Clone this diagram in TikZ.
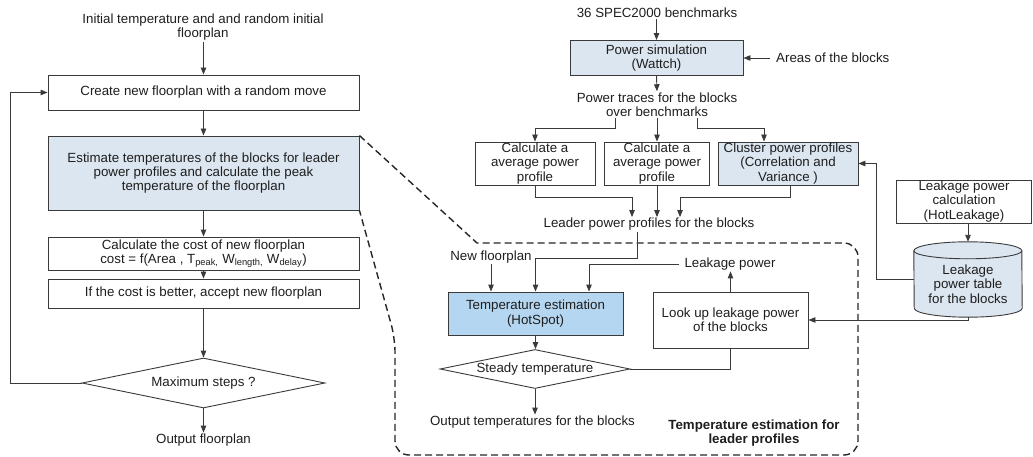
\documentclass[tikz,border=0pt]{standalone}
\usepackage{fontspec}
\setmainfont{Liberation Sans}
\usetikzlibrary{arrows.meta,shapes.geometric}
\definecolor{lfill}{HTML}{DCE6F0}
\definecolor{hfill}{HTML}{B5D6F0}
\definecolor{linec}{HTML}{3A3A3A}
\definecolor{textc}{HTML}{1E1E1E}
\begin{document}
\begin{tikzpicture}[x=1pt,y=-1pt,
  font=\fontsize{13.3}{14.3}\selectfont,
  box/.style={draw=linec, line width=0.9pt, inner sep=0pt, align=center, text=textc},
  lbl/.style={inner sep=1pt, align=center, text=textc},
  dia/.style={draw=linec, line width=0.9pt, diamond, inner sep=0pt, text=textc},
  arr/.style={draw=linec, line width=0.9pt, -{Triangle[length=7pt,width=5.5pt]}},
  ln/.style={draw=linec, line width=0.9pt},
  dashreg/.style={draw=black!85, line width=1.4pt, dash pattern=on 7pt off 4pt}]
\useasboundingbox (0,0) rectangle (1033,457);

% ---------- left column ----------
\node[lbl] (init) at (203,27) {Initial temperature and and random initial\\floorplan};
\node[box, minimum width=311, minimum height=35] (b1) at (203.5,92.5) {Create new floorplan with a random move};
\node[box, fill=lfill, minimum width=311, minimum height=74] (b2) at (203.5,173) {Estimate temperatures of the blocks for leader\\power profiles and calculate the peak\\temperature of the floorplan};
\node[box, minimum width=311, minimum height=33] (b3) at (203.5,253.5) {Calculate the cost of new floorplan\\cost = f(Area , T\textsubscript{peak,} W\textsubscript{length,} W\textsubscript{delay})};
\node[box, minimum width=311, minimum height=29] (b4) at (203.5,293.5) {If the cost is better, accept new floorplan};
\node[dia, aspect=4.86, minimum width=243, minimum height=50] (d1) at (203.5,383) {Maximum steps ?};
\node[lbl] (outfp) at (203.5,440) {Output floorplan};
\coordinate (loopx) at (10,0);

\draw[arr] (init.south -| b1.north) -- (b1.north);
\draw[arr] (b1) -- (b2);
\draw[arr] (b2) -- (b3);
\draw[arr] (b3) -- (b4);
\draw[arr] (b4) -- (d1);
\draw[arr] (d1) -- (outfp);
\draw[arr] (d1.west) -- (d1.west -| loopx) |- (b1.west);

% ---------- top right ----------
\node[lbl] (spec) at (657,13) {36 SPEC2000 benchmarks};
\node[box, fill=lfill, minimum width=173, minimum height=35] (ps) at (656.5,58) {Power simulation\\(Wattch)};
\node[lbl, anchor=west, inner xsep=6pt] (areas) at (770,58) {Areas of the blocks};
\node[lbl] (traces) at (657,104.5) {Power traces for the blocks\\over benchmarks};
\draw[arr] (spec.south -| ps.north) -- (ps.north);
\draw[arr] (areas.west) -- (ps.east);
\draw[arr] (ps.south) -- (traces.north);

\node[box, minimum width=120, minimum height=43] (bA) at (535,163.5) {Calculate a\\average power\\profile};
\node[box, minimum width=105, minimum height=43] (bB) at (657,163.5) {Calculate a\\average power\\profile};
\node[box, fill=lfill, minimum width=140, minimum height=43] (bC) at (788,163.5) {Cluster power profiles\\(Correlation and\\Variance )};
\coordinate (brl) at (615,128);
\coordinate (brr) at (697,128);
\draw[arr] (brl |- traces.south) -- (brl) -| (bA.north);
\draw[arr] (traces.south -| bB.north) -- (bB.north);
\draw[arr] (brr |- traces.south) -- (brr) -| ([xshift=-24pt]bC.north);

\node[lbl] (leader) at (649,224.5) {Leader power profiles for the blocks};
\coordinate (ml) at (632,197);
\coordinate (mr) at (680,197);
\draw[arr] (bA.south) |- (ml) -- (ml |- leader.north);
\draw[arr] (bB.south) -- (bB.south |- leader.north);
\draw[arr] ([xshift=2pt]bC.south) |- (mr) -- (mr |- leader.north);

% ---------- leakage ----------
\node[box, minimum width=135, minimum height=43] (lc) at (964,201.5) {Leakage power\\calculation\\(HotLeakage)};
\node[minimum width=108, minimum height=75, inner sep=0pt, align=center, text=textc] (cyl) at (968,279.5) {};
\path[fill=lfill, draw=linec, line width=0.9pt]
  ([yshift=-9pt]cyl.north west) arc[x radius=54pt, y radius=9pt, start angle=180, end angle=0]
  -- ([yshift=9pt]cyl.south east) arc[x radius=54pt, y radius=9pt, start angle=0, end angle=-180] -- cycle;
\draw[draw=linec, line width=0.9pt] ([yshift=-9pt]cyl.north west) arc[x radius=54pt, y radius=8pt, start angle=180, end angle=360];
\node[align=center, text=textc, inner sep=0pt] (cyltext) at (968,284) {Leakage\\power table\\for the blocks};
\draw[arr] (lc.south -| cyl.north) -- (cyl.north);
\draw[arr] (cyl.west) -- ++(-37,0) |- (bC.east);

% ---------- dashed region ----------
\draw[dashreg] (b2.north east) -- (477,243) {[rounded corners=14pt] -- (858,243) -- (858,455) -- (395,455) -- (395,338)} -- (b2.south east);

\node[lbl] (newfp) at (491,257) {New floorplan};
\node[lbl, inner xsep=5pt] (leakp) at (730,264) {Leakage power};
\node[box, fill=hfill, minimum width=175, minimum height=43] (hs) at (535.5,313.5) {Temperature estimation\\(HotSpot)};
\node[box, minimum width=155, minimum height=56] (lu) at (730.5,320) {Look up leakage power\\of the blocks};
\node[dia, aspect=4.87, minimum width=190, minimum height=39] (d2) at (535,369) {Steady temperature};
\node[lbl] (outt) at (532.5,422) {Output temperatures for the blocks};
\node[lbl, font=\fontsize{13.3}{14.5}\selectfont\bfseries] (reg) at (754,433) {Temperature estimation for\\leader profiles};
\coordinate (lk) at (637,258);

\draw[arr] (newfp.south) -- (newfp.south |- hs.north);
\draw[arr] (leader.south -| lk) -- (lk) -| (hs.north);
\draw[arr] (leakp.west) -| ([xshift=53.5pt]hs.north);
\draw[arr] (lu.north) -- (lu.north |- leakp.south);
\draw[arr] (hs.south) -- (hs.south |- d2.north);
\draw[ln] (d2.east) -| (lu.south);
\draw[arr] (d2.south) -- (d2.south |- outt.north);
\draw[arr] (cyl.south) |- (lu.east);
\end{tikzpicture}
\end{document}
